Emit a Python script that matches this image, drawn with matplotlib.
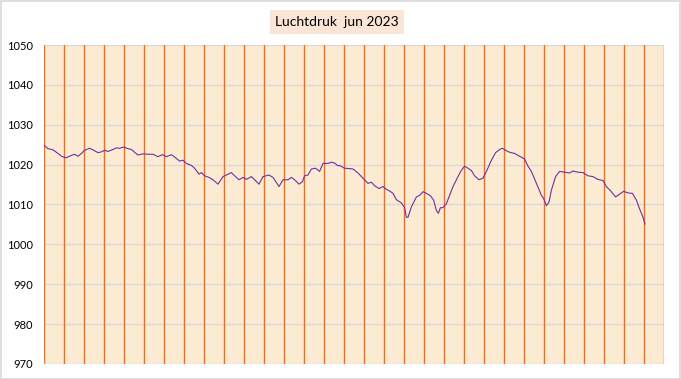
import matplotlib
matplotlib.use("Agg")
import matplotlib.pyplot as plt
from matplotlib.patches import Rectangle

# day of month (0 = start of 1 june) and air pressure in hPa
days = [0.0, 0.2, 0.45, 0.7, 0.87, 1.1, 1.37, 1.53, 1.7, 1.87, 2.03, 2.28, 2.45, 2.7, 2.87,
        3.03, 3.2, 3.45, 3.62, 3.78, 3.98, 4.2, 4.37, 4.53, 4.7, 4.95, 5.2, 5.45, 5.7, 5.92,
        6.12, 6.37, 6.53, 6.78, 6.95, 7.12, 7.37, 7.53, 7.75, 7.87, 8.03, 8.25, 8.45, 8.7,
        8.95, 9.2, 9.37, 9.53, 9.75, 9.95, 10.12, 10.37, 10.53, 10.75, 10.95, 11.25, 11.45,
        11.75, 11.95, 12.2, 12.37, 12.53, 12.75, 12.92, 13.03, 13.2, 13.37, 13.58, 13.78,
        13.95, 14.2, 14.37, 14.53, 14.7, 14.78, 15.03, 15.28, 15.45, 15.7, 15.95, 16.2, 16.37,
        16.53, 16.75, 16.95, 17.12, 17.28, 17.45, 17.62, 17.87, 18.03, 18.12, 18.2, 18.37,
        18.62, 18.78, 18.95, 19.12, 19.32, 19.48, 19.62, 19.72, 19.82, 19.95, 20.12, 20.28,
        20.45, 20.7, 20.87, 21.03, 21.2, 21.37, 21.53, 21.75, 21.95, 22.12, 22.37, 22.58,
        22.78, 22.92, 23.08, 23.28, 23.53, 23.78, 24.03, 24.2, 24.37, 24.62, 24.87, 24.98,
        25.12, 25.25, 25.37, 25.58, 25.78, 26.03, 26.28, 26.45, 26.7, 26.95, 27.2, 27.45,
        27.7, 27.95, 28.12, 28.37, 28.58, 28.78, 28.98, 29.2, 29.42, 29.62, 29.78, 29.95, 30.05]
druk = [1024.9, 1024.0, 1023.7, 1022.8, 1022.1, 1021.7, 1022.3, 1022.6, 1022.1, 1022.8, 1023.6,
        1024.1, 1023.7, 1023.0, 1023.2, 1023.6, 1023.3, 1023.8, 1024.2, 1024.1, 1024.4, 1024.0,
        1023.8, 1023.1, 1022.4, 1022.7, 1022.6, 1022.6, 1022.0, 1022.5, 1022.0, 1022.5, 1021.9,
        1020.9, 1021.1, 1020.3, 1019.8, 1019.1, 1017.6, 1018.0, 1017.2, 1016.8, 1016.2, 1015.1,
        1017.0, 1017.6, 1018.0, 1017.2, 1016.2, 1016.8, 1016.3, 1017.0, 1016.2, 1015.1, 1017.0,
        1017.4, 1016.8, 1014.5, 1016.2, 1016.2, 1016.8, 1016.2, 1015.1, 1015.7, 1017.2, 1017.4,
        1018.9, 1019.1, 1018.3, 1020.3, 1020.3, 1020.6, 1020.4, 1019.7, 1019.8, 1019.1, 1019.0,
        1018.9, 1017.9, 1016.6, 1015.3, 1015.6, 1014.7, 1014.0, 1014.5, 1013.8, 1013.4, 1012.8,
        1011.2, 1010.4, 1009.2, 1006.8, 1006.8, 1009.4, 1011.9, 1012.3, 1013.2, 1012.8, 1012.2,
        1011.1, 1008.5, 1007.8, 1009.2, 1009.2, 1010.2, 1012.3, 1014.5, 1017.0, 1018.6, 1019.6,
        1019.1, 1018.5, 1017.2, 1016.2, 1016.6, 1018.3, 1021.1, 1023.0, 1023.8, 1024.1, 1023.6,
        1023.1, 1022.8, 1022.1, 1021.4, 1019.6, 1018.3, 1015.3, 1012.3, 1011.5, 1009.7, 1010.6,
        1013.6, 1017.0, 1018.3, 1018.1, 1017.9, 1018.4, 1018.1, 1018.0, 1017.2, 1017.0, 1016.3,
        1016.0, 1014.5, 1013.2, 1011.9, 1012.6, 1013.3, 1012.9, 1012.8, 1011.1, 1008.9, 1006.8,
        1005.1]
y_ticks = [970, 980, 990, 1000, 1010, 1020, 1030, 1040, 1050]
title = "Luchtdruk  jun 2023"

W, H = 681, 379
fig = plt.figure(figsize=(W / 100, H / 100), dpi=100)
fig.patch.set_facecolor("white")
# light grey frame around the whole chart
fig.patches.append(Rectangle((0.5 / W, 0.5 / H), 1 - 1.5 / W, 1 - 1.5 / H,
                             transform=fig.transFigure, fill=False,
                             edgecolor="#D9D9D9", linewidth=1.2))

ax = fig.add_axes([44 / W, (H - 364) / H, 620 / W, 319 / H])
ax.set_facecolor("#FBEBD3")
ax.set_xlim(0, 31)
ax.set_ylim(970, 1050)

# orange day lines and grey pressure lines
for d in range(32):
    ax.axvline(d, color="#FF6A10", linewidth=1.0, zorder=2)
for v in y_ticks:
    ax.axhline(v, color="#D9D9D9", linewidth=1.0, zorder=1)

ax.plot(days, druk, color="#7030A0", linewidth=0.8, zorder=3)

ax.set_xticks([])
ax.set_yticks(y_ticks)
ax.tick_params(axis="y", length=0, pad=8, labelsize=8, labelcolor="#000000")
for lbl in ax.get_yticklabels():
    lbl.set_fontfamily("Lato")
for s in ax.spines.values():
    s.set_visible(False)

fig.text(337 / W, 1 - 22 / H, title, ha="center", va="center", fontsize=10,
         family="Lato", color="#000000",
         bbox=dict(boxstyle="square,pad=0.4", facecolor="#FBE5D6", edgecolor="none"))

fig.savefig("out.png", dpi=100)
